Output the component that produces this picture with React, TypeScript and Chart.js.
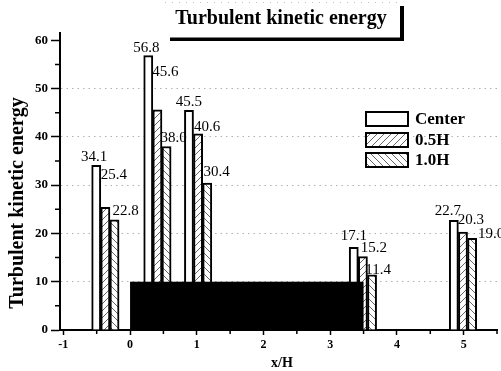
import React, { useEffect, useRef } from "react";
import { Chart, registerables } from "chart.js";

Chart.register(...registerables);

// ---------------- data ----------------
const seriesNames = ["Center", "0.5H", "1.0H"];
const groupPositions = [-0.37, 0.41, 1.02, 3.49, 4.99]; // x/H of each measuring station
const centerValues = [34.1, 56.8, 45.5, 17.1, 22.7];
const halfHValues = [25.4, 45.6, 40.6, 15.2, 20.3];
const oneHValues = [22.8, 38.0, 30.4, 11.4, 19.0];
const xTickValues = [-1, 0, 1, 2, 3, 4, 5];
const xMinorTickValues = [-0.5, 0.5, 1.5, 2.5, 3.5, 4.5, 5.5];
const yTickValues = [0, 10, 20, 30, 40, 50, 60];
const yMinorTickValues = [5, 15, 25, 35, 45, 55];
const obstacleX = [0, 3.5];
const obstacleY = [0, 10];

// ---------------- layout / style ----------------
const SERIF = '"Liberation Serif", "Times New Roman", serif';
const BAR_STEP = 0.137; // spacing of bars within a group (x/H units)
// label nudges in px relative to (bar centre, bar top)
const labelNudge: number[][][] = [
  [[-2, -8], [-2, -8], [0, -8], [0, -11], [-6, -9]],
  [[8.5, -32], [8, -38], [9, -7], [11, -8.5], [8, -12]],
  [[11, -9], [7, -8], [9.5, -11], [6, -5], [19, -4]],
];

function makeHatch(dir: number): CanvasPattern | string {
  const size = 7;
  const c = document.createElement("canvas");
  c.width = size;
  c.height = size;
  const g = c.getContext("2d");
  if (!g) return "#fff";
  g.fillStyle = "#ffffff";
  g.fillRect(0, 0, size, size);
  g.strokeStyle = "#666666";
  g.lineWidth = 1;
  g.beginPath();
  if (dir > 0) {
    g.moveTo(0, size);
    g.lineTo(size, 0);
    g.moveTo(-1, 1);
    g.lineTo(1, -1);
    g.moveTo(size - 1, size + 1);
    g.lineTo(size + 1, size - 1);
  } else {
    g.moveTo(0, 0);
    g.lineTo(size, size);
    g.moveTo(-1, size - 1);
    g.lineTo(1, size + 1);
    g.moveTo(size - 1, -1);
    g.lineTo(size + 1, 1);
  }
  g.stroke();
  const p = g.createPattern(c, "repeat");
  return p || "#fff";
}

export default function App() {
  const ref = useRef<HTMLCanvasElement>(null);

  useEffect(() => {
    const canvas = ref.current;
    if (!canvas) return;
    const fills = ["#ffffff", makeHatch(1), makeHatch(-1)];
    const allValues = [centerValues, halfHValues, oneHValues];

    const datasets = seriesNames.map((name, i) => ({
      label: name,
      data: groupPositions.map((gx, j) => ({ x: gx + (i - 1) * BAR_STEP, y: allValues[i][j] })),
      backgroundColor: fills[i] as any,
      borderColor: "#000000",
      borderWidth: 2,
      grouped: false,
      categoryPercentage: 1,
      barPercentage: 1,
    }));

    const decorPlugin = {
      id: "decor",
      afterDatasetsDraw(chart: any) {
        const { ctx } = chart;
        const xs = chart.scales.x;
        const ys = chart.scales.y;
        ctx.save();
        // obstacle block
        const x0 = xs.getPixelForValue(obstacleX[0]);
        const x1 = xs.getPixelForValue(obstacleX[1]);
        const y0 = ys.getPixelForValue(obstacleY[0]);
        const y1 = ys.getPixelForValue(obstacleY[1]);
        ctx.fillStyle = "#000";
        ctx.fillRect(x0, y1, x1 - x0, y0 - y1);

        // minor ticks
        ctx.strokeStyle = "#000";
        ctx.lineWidth = 1.5;
        ctx.beginPath();
        yMinorTickValues.forEach((v) => {
          const py = ys.getPixelForValue(v);
          ctx.moveTo(xs.left, py);
          ctx.lineTo(xs.left - 5, py);
        });
        xMinorTickValues.forEach((v) => {
          const px = xs.getPixelForValue(v);
          ctx.moveTo(px, ys.bottom);
          ctx.lineTo(px, ys.bottom + 4);
        });
        ctx.stroke();

        // value labels
        ctx.fillStyle = "#000";
        ctx.font = `15px ${SERIF}`;
        ctx.textAlign = "center";
        ctx.textBaseline = "middle";
        chart.data.datasets.forEach((_ds: any, i: number) => {
          const meta = chart.getDatasetMeta(i);
          meta.data.forEach((el: any, j: number) => {
            const [dx, dy] = labelNudge[i][j];
            ctx.fillText(allValues[i][j].toFixed(1), el.x + dx, el.y + dy);
          });
        });
        ctx.restore();
      },
      afterDraw(chart: any) {
        const { ctx } = chart;
        ctx.save();
        // title box
        ctx.fillStyle = "#000";
        ctx.font = `bold 20px ${SERIF}`;
        ctx.textAlign = "center";
        ctx.textBaseline = "alphabetic";
        ctx.fillText("Turbulent kinetic energy", 281, 24);
        ctx.fillRect(170, 37.5, 234, 3.5);
        ctx.fillRect(400, 6, 4, 35);
        ctx.strokeStyle = "rgba(0,0,0,0.25)";
        ctx.lineWidth = 1;
        ctx.setLineDash([1, 6]);
        ctx.beginPath();
        ctx.moveTo(165, 2.5);
        ctx.lineTo(400, 2.5);
        ctx.stroke();
        ctx.setLineDash([]);

        // axis titles
        ctx.font = `bold 20px ${SERIF}`;
        ctx.textBaseline = "middle";
        ctx.save();
        ctx.translate(18, 203);
        ctx.rotate(-Math.PI / 2);
        ctx.fillText("Turbulent kinetic energy", 0, 0);
        ctx.restore();
        ctx.font = `bold 14px ${SERIF}`;
        ctx.fillText("x/H", 282, 363);

        // legend
        const lx = 366;
        const rowY = [119, 140, 160];
        chart.data.datasets.forEach((ds: any, i: number) => {
          const cy = rowY[i];
          ctx.fillStyle = ds.backgroundColor;
          ctx.fillRect(lx, cy - 7, 42, 14);
          ctx.strokeStyle = "#000";
          ctx.lineWidth = 2;
          ctx.strokeRect(lx, cy - 7, 42, 14);
          ctx.fillStyle = "#000";
          ctx.font = `bold 17px ${SERIF}`;
          ctx.textAlign = "left";
          ctx.textBaseline = "middle";
          ctx.fillText(ds.label, 415, cy + 1);
        });
        ctx.restore();
      },
    };

    const chart = new Chart(canvas, {
      type: "bar",
      data: { datasets } as any,
      options: {
        animation: false,
        responsive: false,
        layout: { padding: { top: 33, right: 4, left: 0, bottom: 0 } },
        plugins: {
          legend: { display: false },
          tooltip: { enabled: false },
          title: { display: false },
        },
        scales: {
          x: {
            type: "linear",
            min: -1.05,
            max: 5.5,
            offset: false,
            afterBuildTicks: (s: any) => {
              s.ticks = xTickValues.map((v) => ({ value: v }));
            },
            afterFit: (s: any) => {
              s.height = 41;
            },
            grid: {
              offset: false,
              drawOnChartArea: false,
              drawTicks: true,
              tickLength: 5,
              tickColor: "#000",
              tickWidth: 1.5,
            },
            border: { display: true, color: "#000", width: 2 },
            ticks: {
              color: "#000",
              font: { family: SERIF, weight: "bold", size: 12 },
              padding: 3,
              maxRotation: 0,
              autoSkip: false,
            },
          },
          y: {
            type: "linear",
            min: 0,
            max: 61.5,
            afterBuildTicks: (s: any) => {
              s.ticks = yTickValues.map((v) => ({ value: v }));
            },
            afterFit: (s: any) => {
              s.width = 60;
            },
            grid: {
              color: (c: any) =>
                c.tick && (c.tick.value === 0 || c.tick.value === 60) ? "rgba(0,0,0,0)" : "#b0b0b0",
              lineWidth: 1,
              drawTicks: true,
              tickLength: 9,
              tickColor: "#000",
              tickWidth: 1.5,
              tickBorderDash: [],
            },
            border: { display: true, color: "#000", width: 2, dash: [1.5, 4] },
            ticks: {
              color: "#000",
              font: { family: SERIF, weight: "bold", size: 13 },
              padding: 3,
            },
          },
        },
      } as any,
      plugins: [decorPlugin],
    });

    return () => {
      chart.destroy();
    };
  }, []);

  return (
    <div style={{ position: "absolute", left: 0, top: 0, width: 501, height: 371, background: "#fff" }}>
      <canvas ref={ref} width={501} height={371} style={{ display: "block", width: 501, height: 371 }} />
    </div>
  );
}
